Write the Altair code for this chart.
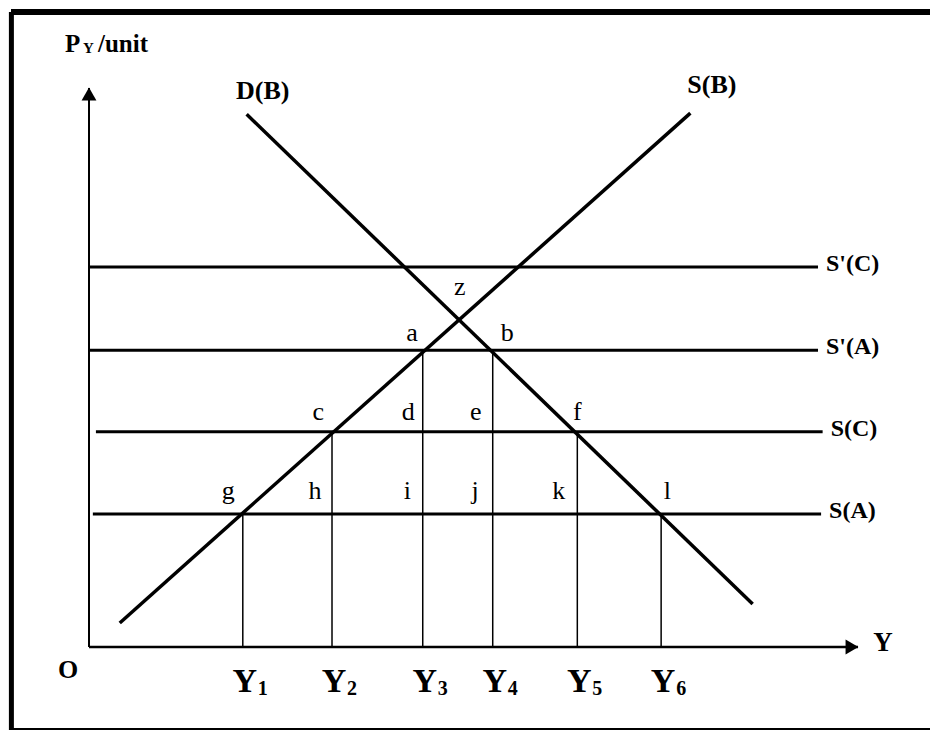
import altair as alt
import pandas as pd

# ---------------- values ----------------
# abstract units: origin O = (0, 0), arrow tips of both axes at 100
axis_end = [100.0]

price_names = ["S'(C)", "S'(A)", "S(C)", "S(A)"]
price_levels = [68.0, 53.1, 38.5, 23.8]
price_start = [0.0, 0.0, 0.9, 0.5]
price_end = [94.8, 94.8, 95.4, 95.2]

curve_names = ["S(B)", "S(B)", "D(B)", "D(B)"]
curve_x = [4.0, 78.2, 20.5, 86.3]
curve_y = [4.3, 95.5, 95.3, 7.7]

curve_label_names = ["D(B)", "S(B)"]
curve_label_x = [22.6, 81.0]
curve_label_y = [99.5, 100.5]

qty_subscripts = ["1", "2", "3", "4", "5", "6"]
qty_x = [20.0, 31.6, 43.4, 52.5, 63.5, 74.4]
qty_top = [23.8, 38.5, 53.1, 53.1, 38.5, 23.8]

point_letters = ["z", "a", "b", "c", "d", "e", "f", "g", "h", "i", "j", "k", "l"]
point_x = [48.2, 42.0, 54.4, 29.8, 41.5, 50.3, 63.5, 18.1, 29.4, 41.4, 50.2, 61.1, 75.2]
point_y = [63.0, 54.7, 54.7, 40.6, 40.6, 40.6, 40.6, 26.5, 26.5, 26.5, 26.5, 26.5, 26.5]

# ---------------- layout ----------------
PAD_L, PAD_T, PAD_R = 3, 4, 8
W, H = 911, 718
X0, X100 = 78, 847      # view px of x = 0 and x = 100
Y0, Y100 = 635, 76      # view px of y = 0 and y = 100
kx = (X100 - X0) / 100.0
ky = (Y0 - Y100) / 100.0
x_dom = [-X0 / kx, (W + PAD_R - X0) / kx]
y_dom = [-(H - Y0) / ky, Y0 / ky]
xs = alt.Scale(domain=[x_dom[0], (W - X0) / kx], nice=False, zero=False)
ys = alt.Scale(domain=y_dom, nice=False, zero=False)

FONT = "Liberation Serif"
BLACK = "#000000"


def X(f):
    return alt.X(f, type="quantitative", scale=xs, axis=None)


def Y(f):
    return alt.Y(f, type="quantitative", scale=ys, axis=None)


origin = pd.DataFrame({"x": [0.0], "y": [0.0]})
xtip = pd.DataFrame({"x": axis_end, "y": [0.0]})
ytip = pd.DataFrame({"x": [0.0], "y": axis_end})

# frame (left, top, bottom) along the edges of the drawing area
left_px = 0.4 / kx
bottom_px = 1.0 / ky
frame_df = pd.DataFrame({
    "x": [x_dom[0] + left_px, x_dom[0], x_dom[0]],
    "x2": [x_dom[0] + left_px, x_dom[1], x_dom[1]],
    "y": [y_dom[0], y_dom[1], y_dom[0] + bottom_px],
    "y2": [y_dom[1], y_dom[1], y_dom[0] + bottom_px],
    "w": [5, 6, 2],
})
frame = alt.Chart(frame_df).mark_rule(color=BLACK).encode(
    x=X("x"), x2="x2", y=Y("y"), y2="y2",
    strokeWidth=alt.StrokeWidth("w:Q", scale=None, legend=None))

# axes
x_axis = alt.Chart(pd.DataFrame({"x": [0.0], "x2": axis_end, "y": [0.0]})).mark_rule(
    color=BLACK, strokeWidth=2.5).encode(x=X("x"), x2="x2", y=Y("y"))
y_axis = alt.Chart(pd.DataFrame({"x": [0.0], "y": [0.0], "y2": axis_end})).mark_rule(
    color=BLACK, strokeWidth=2).encode(x=X("x"), y=Y("y"), y2="y2")
x_arrow = alt.Chart(xtip).mark_point(shape="triangle-right", filled=True, size=220,
                                     color=BLACK, opacity=1, xOffset=-6).encode(x=X("x"), y=Y("y"))
y_arrow = alt.Chart(ytip).mark_point(shape="triangle-up", filled=True, size=220,
                                     color=BLACK, opacity=1, yOffset=6).encode(x=X("x"), y=Y("y"))

# horizontal price lines
price_df = pd.DataFrame({"name": price_names, "level": price_levels,
                         "x0": price_start, "x1": price_end})
price_lines = alt.Chart(price_df).mark_rule(color=BLACK, strokeWidth=3).encode(
    x=X("x0"), x2="x1", y=Y("level"))
price_text = alt.Chart(price_df).mark_text(
    font=FONT, fontSize=24, fontWeight="bold", align="left", baseline="middle",
    dx=8, dy=-3, color=BLACK).encode(x=X("x1"), y=Y("level"), text="name:N")

# supply and demand curves
curve_df = pd.DataFrame({"name": curve_names, "x": curve_x, "y": curve_y})
curves = alt.Chart(curve_df).mark_line(color=BLACK, strokeWidth=3.5).encode(
    x=X("x"), y=Y("y"), detail="name:N")
curve_lab_df = pd.DataFrame({"name": curve_label_names, "x": curve_label_x, "y": curve_label_y})
curve_text = alt.Chart(curve_lab_df).mark_text(
    font=FONT, fontSize=26, fontWeight="bold", align="center", baseline="middle",
    color=BLACK).encode(x=X("x"), y=Y("y"), text="name:N")

# drop lines and quantity labels
qty_df = pd.DataFrame({"sub": qty_subscripts, "x": qty_x, "top": qty_top,
                       "zero": [0.0] * len(qty_x)})
drops = alt.Chart(qty_df).mark_rule(color=BLACK, strokeWidth=1.5).encode(
    x=X("x"), y=Y("zero"), y2="top")
qty_Y = alt.Chart(qty_df).mark_text(
    text="Y", font=FONT, fontSize=34, fontWeight="bold", align="center",
    baseline="alphabetic", dx=2, dy=45, color=BLACK).encode(x=X("x"), y=Y("zero"))
qty_sub = alt.Chart(qty_df).mark_text(
    font=FONT, fontSize=20, fontWeight="bold", align="center",
    baseline="alphabetic", dx=20, dy=48, color=BLACK).encode(x=X("x"), y=Y("zero"), text="sub:N")

# point letters
pt_df = pd.DataFrame({"t": point_letters, "x": point_x, "y": point_y})
pt_text = alt.Chart(pt_df).mark_text(
    font=FONT, fontSize=26, align="center", baseline="alphabetic", color=BLACK).encode(
    x=X("x"), y=Y("y"), text="t:N")

# axis titles
o_text = alt.Chart(origin).mark_text(
    text="O", font=FONT, fontSize=26, fontWeight="bold", align="center",
    baseline="middle", dx=-21, dy=23, color=BLACK).encode(x=X("x"), y=Y("y"))
yq_text = alt.Chart(xtip).mark_text(
    text="Y", font=FONT, fontSize=27, fontWeight="bold", align="center",
    baseline="middle", dx=25, dy=-4, color=BLACK).encode(x=X("x"), y=Y("y"))
p_text = alt.Chart(ytip).mark_text(
    text="P", font=FONT, fontSize=25, fontWeight="bold", align="left",
    baseline="alphabetic", dx=-24, dy=-36, color=BLACK).encode(x=X("x"), y=Y("y"))
p_sub = alt.Chart(ytip).mark_text(
    text="Y", font=FONT, fontSize=15, fontWeight="bold", align="left",
    baseline="alphabetic", dx=-6, dy=-35, color=BLACK).encode(x=X("x"), y=Y("y"))
unit_text = alt.Chart(ytip).mark_text(
    text="/unit", font=FONT, fontSize=25, fontWeight="bold", align="left",
    baseline="alphabetic", dx=9, dy=-36, color=BLACK).encode(x=X("x"), y=Y("y"))

chart = alt.layer(
    frame,
    drops, price_lines, x_axis, y_axis, x_arrow, y_arrow, curves,
    price_text, curve_text, qty_Y, qty_sub, pt_text,
    o_text, yq_text, p_text, p_sub, unit_text,
).properties(
    width=W, height=H,
    autosize=alt.AutoSizeParams(type="none"),
    padding={"left": PAD_L, "top": PAD_T, "right": PAD_R, "bottom": 2},
    background="white",
).configure_view(stroke="transparent", strokeWidth=0, fill="white")

chart.save("out.html", embed_options={"renderer": "svg", "actions": False})
